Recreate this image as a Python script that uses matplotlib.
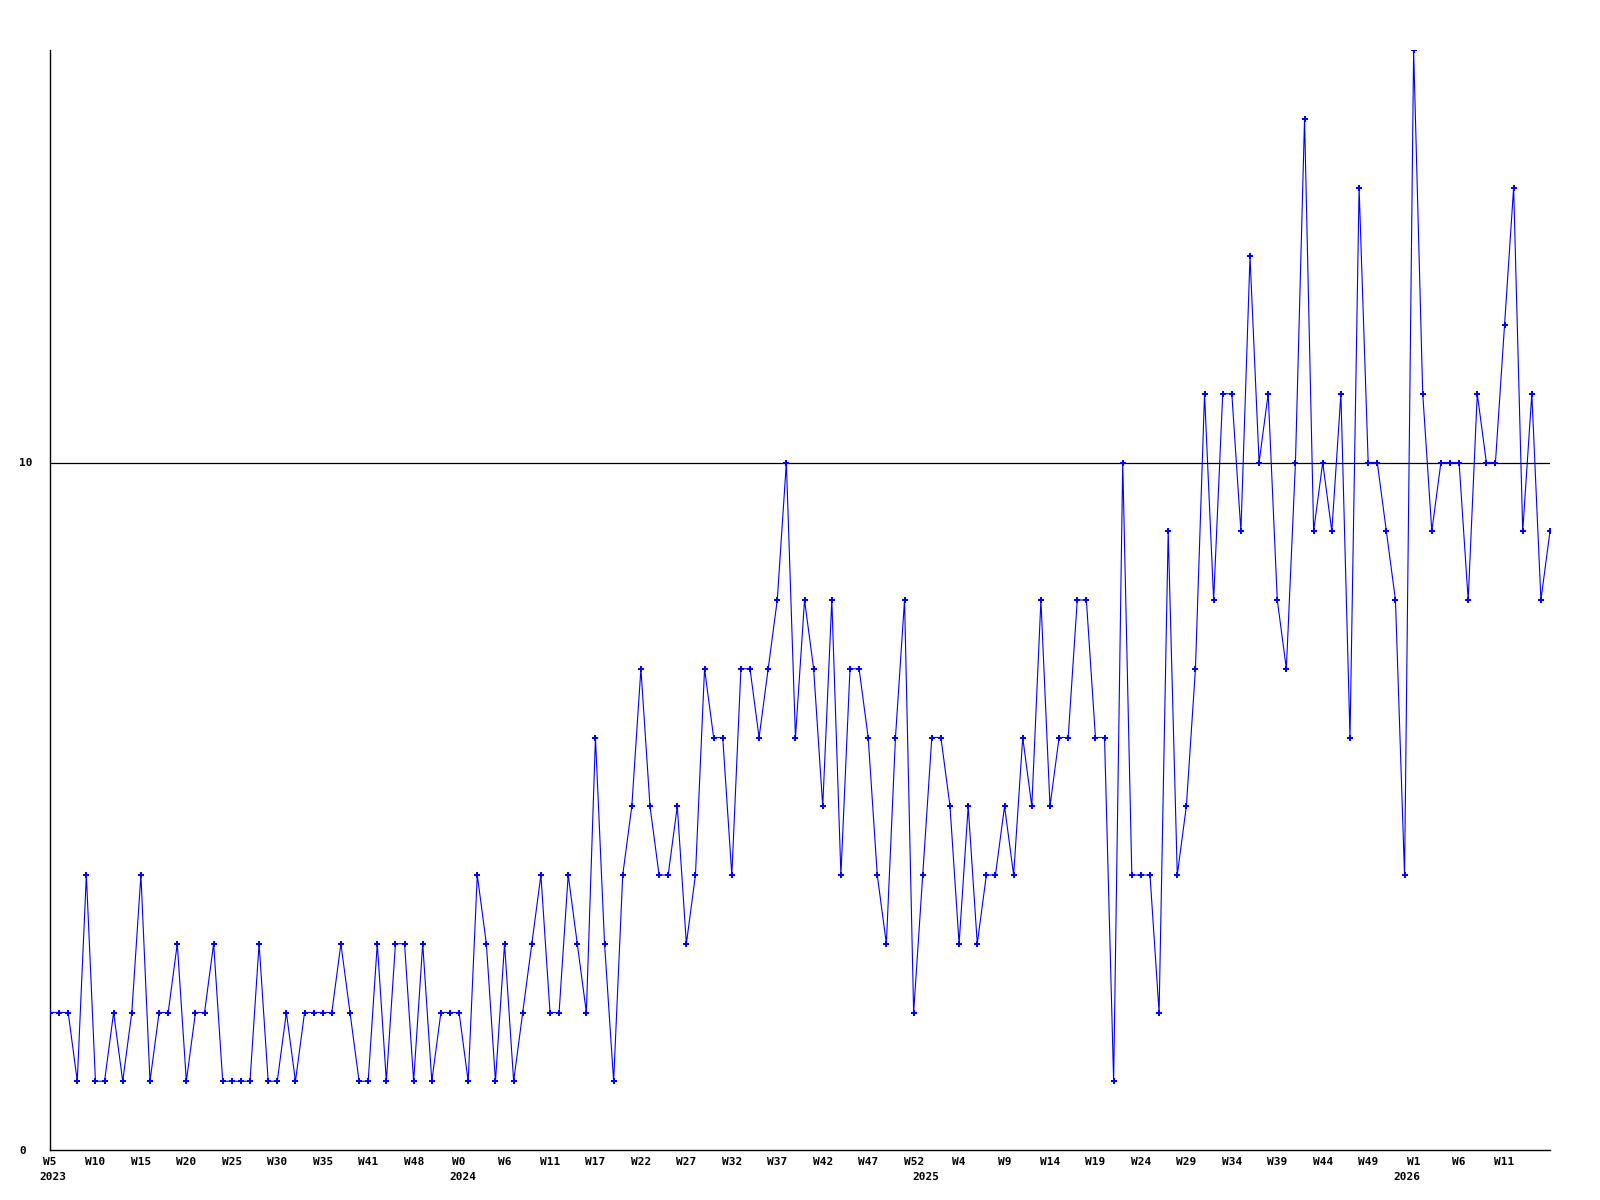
import matplotlib
matplotlib.use("Agg")
import matplotlib.pyplot as plt

values = [2, 2, 2, 1, 4, 1, 1, 2, 1, 2,
          4, 1, 2, 2, 3, 1, 2, 2, 3, 1,
          1, 1, 1, 3, 1, 1, 2, 1, 2, 2,
          2, 2, 3, 2, 1, 1, 3, 1, 3, 3,
          1, 3, 1, 2, 2, 2, 1, 4, 3, 1,
          3, 1, 2, 3, 4, 2, 2, 4, 3, 2,
          6, 3, 1, 4, 5, 7, 5, 4, 4, 5,
          3, 4, 7, 6, 6, 4, 7, 7, 6, 7,
          8, 10, 6, 8, 7, 5, 8, 4, 7, 7,
          6, 4, 3, 6, 8, 2, 4, 6, 6, 5,
          3, 5, 3, 4, 4, 5, 4, 6, 5, 8,
          5, 6, 6, 8, 8, 6, 6, 1, 10, 4,
          4, 4, 2, 9, 4, 5, 7, 11, 8, 11,
          11, 9, 13, 10, 11, 8, 7, 10, 15, 9,
          10, 9, 11, 6, 14, 10, 10, 9, 8, 4,
          16, 11, 9, 10, 10, 10, 8, 11, 10, 10,
          12, 14, 9, 11, 8, 9]

week_labels = ["W5", "W10", "W15", "W20", "W25", "W30", "W35", "W41", "W48",
               "W0", "W6", "W11", "W17", "W22", "W27", "W32", "W37", "W42",
               "W47", "W52", "W4", "W9", "W14", "W19", "W24", "W29", "W34",
               "W39", "W44", "W49", "W1", "W6", "W11"]
year_labels = ["2023", "2024", "2025", "2026"]
year_positions = [0.3, 45.4, 96.3, 149.3]
y_ticks = [0, 10]

font = {"family": "DejaVu Sans Mono", "weight": "bold", "size": 8}

fig = plt.figure(figsize=(16, 12), dpi=100)
ax = fig.add_axes([50 / 1600, 1 - 1150 / 1200, 1500 / 1600, 1100 / 1200])

x = list(range(len(values)))
ax.plot(x, values, color="#0000ff", lw=0.8, marker="P", markersize=4,
        markeredgewidth=0, markerfacecolor="#0000ff", zorder=3)
ax.axhline(10, color="black", lw=0.9, zorder=2)

ax.set_xlim(0, len(values) - 1)
ax.set_ylim(0, 16)

for s in ["top", "right"]:
    ax.spines[s].set_visible(False)
for s in ["left", "bottom"]:
    ax.spines[s].set_linewidth(1.0)
    ax.spines[s].set_color("black")

ax.set_xticks(list(range(0, 5 * len(week_labels), 5)))
ax.set_xticklabels(week_labels, **font)
ax.set_yticks(y_ticks)
ax.set_yticklabels([str(t) for t in y_ticks], **font)
ax.tick_params(axis="x", length=0, pad=5)
ax.tick_params(axis="y", length=0, pad=22)
for lab in ax.get_yticklabels():
    lab.set_horizontalalignment("left")

for pos, lab in zip(year_positions, year_labels):
    ax.annotate(lab, xy=(pos, 0), xycoords=("data", "axes fraction"),
                xytext=(0, -22), textcoords="offset pixels",
                ha="center", va="top", **font)

fig.savefig("out.png", dpi=100, facecolor="white")
